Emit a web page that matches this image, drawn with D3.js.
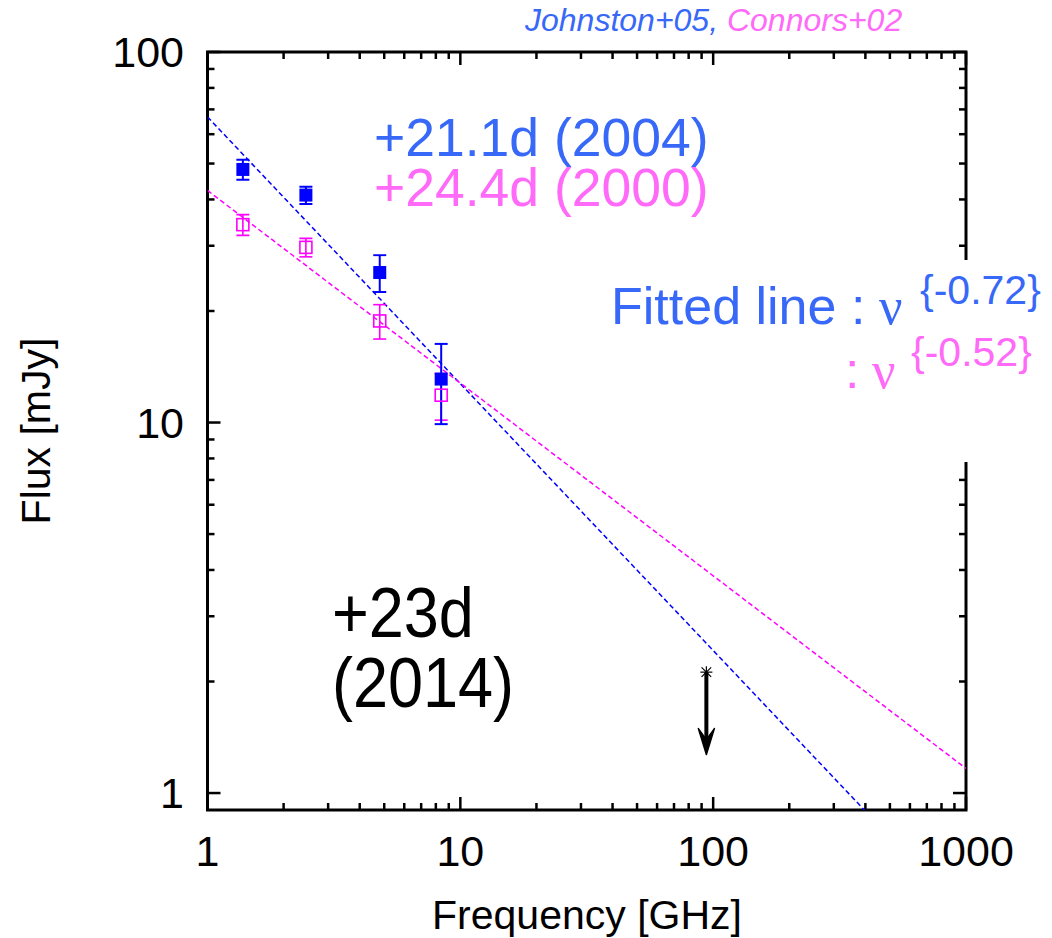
<!DOCTYPE html>
<html><head><meta charset="utf-8">
<script src="https://cdn.jsdelivr.net/npm/d3@7"></script>
<style>html,body{margin:0;padding:0;background:#fff;}svg{display:block;}</style>
</head><body>
<svg id="c" width="1052" height="938"></svg>
<script>
// ---- data ----
const freqGHz = [1.38, 2.45, 4.8, 8.4];
const fluxJohnston = [48.2, 41.1, 25.4, 13.1];
const errJohnston = [3.0, 2.2, 2.9, 3.2];
const fluxConnors = [34.2, 29.7, 18.8, 11.85];
const errConnors = [2.2, 1.7, 2.0, 1.7];
const fitNorm = [66.8, 42.3];
const fitIndex = [-0.72, -0.52];
const limitFreq = [94];
const limitFlux = [2.12];
const limitArrowEnd = [1.27];
const xTickValues = [1, 10, 100, 1000];
const xTickLabels = ["1", "10", "100", "1000"];
const yTickValues = [1, 10, 100];
const yTickLabels = ["1", "10", "100"];

const blue = "#0000ff", magenta = "#ff00ff";
const blueText = "#3868f8", magText = "#ff6af8";
const font = "'Liberation Sans', Arial, Helvetica, sans-serif";
const serif = "'Liberation Serif', 'DejaVu Serif', serif";

const L = 207.5, R = 966, T = 52, B = 810;
const svg = d3.select("#c");
const x = d3.scaleLog().domain([1, 1000]).range([L, R]);
const y = d3.scaleLog().domain([0.9, 100]).range([B, T]);

svg.append("defs").append("clipPath").attr("id", "clip")
  .append("rect").attr("x", L).attr("y", T).attr("width", R - L).attr("height", B - T);

// minor tick values
const xMinor = [], yMinor = [];
[1, 10, 100].forEach(d => { for (let k = 2; k <= 9; k++) xMinor.push(d * k); });
[1, 10].forEach(d => { for (let k = 2; k <= 9; k++) yMinor.push(d * k); });

const g = svg.append("g");
const tickW = 2.5, majL = 13, minL = 7;
function vt(vals, len) {
  vals.forEach(v => {
    g.append("line").attr("x1", x(v)).attr("x2", x(v)).attr("y1", B).attr("y2", B - len)
      .attr("stroke", "#000").attr("stroke-width", tickW);
    g.append("line").attr("x1", x(v)).attr("x2", x(v)).attr("y1", T).attr("y2", T + len)
      .attr("stroke", "#000").attr("stroke-width", tickW);
  });
}
function ht(vals, len) {
  vals.forEach(v => {
    g.append("line").attr("y1", y(v)).attr("y2", y(v)).attr("x1", L).attr("x2", L + len)
      .attr("stroke", "#000").attr("stroke-width", tickW);
    g.append("line").attr("y1", y(v)).attr("y2", y(v)).attr("x1", R).attr("x2", R - len)
      .attr("stroke", "#000").attr("stroke-width", tickW);
  });
}
vt(xTickValues, majL); vt(xMinor, minL);
ht(yTickValues, majL); ht(yMinor, minL);

// frame
g.append("rect").attr("x", L).attr("y", T).attr("width", R - L).attr("height", B - T)
  .attr("fill", "none").attr("stroke", "#000").attr("stroke-width", 3);

// tick labels
xTickValues.forEach((v, i) => {
  svg.append("text").attr("x", x(v)).attr("y", 866).attr("text-anchor", "middle")
    .attr("font-family", font).attr("font-size", 43).text(xTickLabels[i]);
});
yTickValues.forEach((v, i) => {
  svg.append("text").attr("x", 184).attr("y", y(v) + 15).attr("text-anchor", "end")
    .attr("font-family", font).attr("font-size", 43).text(yTickLabels[i]);
});
// axis titles
svg.append("text").attr("x", 587).attr("y", 929).attr("text-anchor", "middle")
  .attr("font-family", font).attr("font-size", 41).text("Frequency [GHz]");
svg.append("text").attr("transform", "translate(50,431) rotate(-90)").attr("text-anchor", "middle")
  .attr("font-family", font).attr("font-size", 41).text("Flux [mJy]");

// fit lines
const plot = svg.append("g").attr("clip-path", "url(#clip)");
const line = d3.line().x(d => x(d[0])).y(d => y(d[1]));
[[blue, 0], [magenta, 1]].forEach(([col, i]) => {
  const pts = [1, 1000].map(f => [f, fitNorm[i] * Math.pow(f, fitIndex[i])]);
  plot.append("path").attr("d", line(pts)).attr("fill", "none").attr("stroke", col)
    .attr("stroke-width", 1.5).attr("stroke-dasharray", "5,3");
});

// error bars & points
function errbars(flux, err, col, w) {
  freqGHz.forEach((f, i) => {
    const cx = x(f), y1 = y(flux[i] + err[i]), y2 = y(flux[i] - err[i]);
    plot.append("line").attr("x1", cx).attr("x2", cx).attr("y1", y1).attr("y2", y2).attr("stroke", col).attr("stroke-width", w);
    [y1, y2].forEach(yy => plot.append("line").attr("x1", cx - 6.5).attr("x2", cx + 6.5).attr("y1", yy).attr("y2", yy)
      .attr("stroke", col).attr("stroke-width", w));
  });
}
errbars(fluxConnors, errConnors, magenta, 1.6);
errbars(fluxJohnston, errJohnston, blue, 2);
freqGHz.forEach((f, i) => {
  plot.append("rect").attr("x", x(f) - 6.5).attr("y", y(fluxJohnston[i]) - 6.5).attr("width", 13).attr("height", 13).attr("fill", blue);
});
freqGHz.forEach((f, i) => {
  plot.append("rect").attr("x", x(f) - 6).attr("y", y(fluxConnors[i]) - 6).attr("width", 12).attr("height", 12)
    .attr("fill", "none").attr("stroke", magenta).attr("stroke-width", 1.6);
});

// upper limit
limitFreq.forEach((f, i) => {
  const cx = x(f), cy = y(limitFlux[i]), ey = y(limitArrowEnd[i]);
  const s = 6;
  [[0, -s, 0, s], [-s, 0, s, 0], [-s * 0.8, -s * 0.8, s * 0.8, s * 0.8], [-s * 0.8, s * 0.8, s * 0.8, -s * 0.8]].forEach(a => {
    plot.append("line").attr("x1", cx + a[0]).attr("y1", cy + a[1]).attr("x2", cx + a[2]).attr("y2", cy + a[3])
      .attr("stroke", "#000").attr("stroke-width", 1.2);
  });
  plot.append("line").attr("x1", cx).attr("x2", cx).attr("y1", cy).attr("y2", ey - 10)
    .attr("stroke", "#000").attr("stroke-width", 4);
  plot.append("path").attr("d", `M${cx - 8},${ey - 26} L${cx},${ey} L${cx + 8},${ey - 26} L${cx},${ey - 15} Z`)
    .attr("fill", "#000").attr("stroke", "#000").attr("stroke-width", 1.5).attr("stroke-linejoin", "round");
});

// label box (opaque) over right border
svg.append("rect").attr("x", 605).attr("y", 260).attr("width", 447).attr("height", 202).attr("fill", "#fff");

// texts
svg.append("text").attr("x", 525).attr("y", 31).attr("font-family", font).attr("font-size", 32)
  .attr("font-style", "italic").attr("fill", blueText).text("Johnston+05,")
  .append("tspan").attr("fill", magText).text(" Connors+02");
svg.append("text").attr("x", 374).attr("y", 156).attr("font-family", font).attr("font-size", 53.5)
  .attr("fill", blueText).text("+21.1d (2004)");
svg.append("text").attr("x", 374).attr("y", 206).attr("font-family", font).attr("font-size", 53.5)
  .attr("fill", magText).text("+24.4d (2000)");

svg.append("text").attr("x", 611).attr("y", 324).attr("font-family", font).attr("font-size", 52)
  .attr("fill", blueText).text("Fitted line :");
svg.append("text").attr("x", 879).attr("y", 324).attr("font-family", serif).attr("font-size", 52)
  .attr("fill", blueText).text("ν");
svg.append("text").attr("x", 920).attr("y", 304).attr("font-family", font).attr("font-size", 41)
  .attr("fill", blueText).text("{-0.72}");
svg.append("text").attr("x", 845).attr("y", 388).attr("font-family", font).attr("font-size", 52)
  .attr("fill", magText).text(":");
svg.append("text").attr("x", 872).attr("y", 388).attr("font-family", serif).attr("font-size", 52)
  .attr("fill", magText).text("ν");
svg.append("text").attr("x", 911).attr("y", 366).attr("font-family", font).attr("font-size", 41)
  .attr("fill", magText).text("{-0.52}");

svg.append("text").attr("transform", "translate(332,637) scale(0.9,1)").attr("font-family", font).attr("font-size", 70)
  .attr("fill", "#000").text("+23d");
svg.append("text").attr("transform", "translate(332,707) scale(0.9,1)").attr("font-family", font).attr("font-size", 70)
  .attr("fill", "#000").text("(2014)");
</script>
</body></html>
